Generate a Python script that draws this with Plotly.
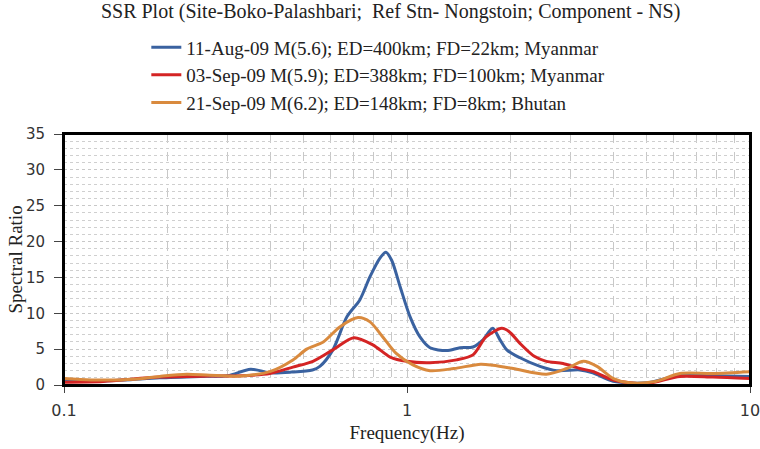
import plotly.graph_objects as go

# ---- data ----
blue_f = [0.1, 0.12, 0.15, 0.19, 0.25, 0.30, 0.35, 0.40, 0.46, 0.53, 0.557, 0.608, 0.668, 0.729, 0.78, 0.834,
          0.868, 0.902, 0.955, 1.021, 1.091, 1.167, 1.305, 1.428, 1.557, 1.666, 1.778, 1.867, 1.954, 2.135,
          2.442, 2.731, 3.19, 3.48, 3.99, 5.0, 6.25, 7.8, 10]
blue_v = [0.5, 0.5, 0.7, 1.0, 1.2, 1.3, 2.2, 1.7, 1.8, 2.1, 2.6, 4.9, 9.5, 11.9, 15.1, 17.7,
          18.5, 17.4, 13.7, 9.5, 6.7, 5.2, 4.8, 5.2, 5.3, 6.3, 7.9, 6.3, 4.9, 3.8,
          2.6, 2.0, 2.1, 1.7, 0.5, 0.3, 1.4, 1.3, 1.2]

red_f = [0.1, 0.13, 0.19, 0.266, 0.33, 0.398, 0.465, 0.532, 0.608, 0.70, 0.795, 0.893, 0.999, 1.167, 1.395,
         1.557, 1.70, 1.89, 1.99, 2.135, 2.35, 2.55, 2.85, 3.19, 3.48, 3.99, 5.0, 6.25, 7.8, 10]
red_v = [0.4, 0.5, 1.1, 1.25, 1.3, 1.6, 2.5, 3.3, 4.9, 6.6, 5.6, 3.9, 3.3, 3.1, 3.5,
         4.2, 6.7, 7.9, 7.4, 5.8, 4.0, 3.3, 3.0, 2.3, 1.9, 0.7, 0.2, 1.2, 1.1, 0.9]

orange_f = [0.1, 0.12, 0.16, 0.19, 0.228, 0.266, 0.33, 0.40, 0.465, 0.51, 0.57, 0.637, 0.72, 0.78, 0.85,
            0.93, 1.04, 1.167, 1.37, 1.64, 1.78, 2.04, 2.55, 2.92, 3.27, 3.58, 4.0, 4.46, 5.3,
            6.25, 7.8, 10]
orange_v = [0.9, 0.7, 0.8, 1.2, 1.5, 1.35, 1.25, 1.9, 3.5, 5.0, 6.0, 8.1, 9.4, 8.8, 6.7,
            4.4, 2.8, 2.0, 2.3, 2.9, 2.75, 2.3, 1.5, 2.3, 3.3, 2.6, 0.9, 0.3, 0.5,
            1.6, 1.6, 1.85]

names = ["11-Aug-09 M(5.6); ED=400km; FD=22km; Myanmar",
         "03-Sep-09 M(5.9); ED=388km; FD=100km; Myanmar",
         "21-Sep-09 M(6.2); ED=148km; FD=8km; Bhutan"]
colors = ["#3A62A0", "#D42424", "#D98A3E"]

y_ticks = [0, 5, 10, 15, 20, 25, 30, 35]
x_ticks = [0.1, 1, 10]
x_tick_labels = ["0.1", "1", "10"]

serif = "Liberation Serif"
sans = "DejaVu Sans"

fig = go.Figure()
for f, v, n, c in [(blue_f, blue_v, names[0], colors[0]),
                   (red_f, red_v, names[1], colors[1]),
                   (orange_f, orange_v, names[2], colors[2])]:
    fig.add_trace(go.Scatter(x=f, y=v, name=n, mode="lines", cliponaxis=True,
                             line=dict(color=c, width=3, shape="spline", smoothing=0.8)))

fig.update_layout(
    width=760, height=449,
    margin=dict(l=64, r=10, t=134, b=64, autoexpand=False),
    paper_bgcolor="white", plot_bgcolor="white",
    title=dict(text="SSR Plot (Site-Boko-Palashbari;  Ref Stn- Nongstoin; Component - NS)",
               x=0.514, xref="container", xanchor="center",
               y=0.99, yref="container", yanchor="top",
               font=dict(family=serif, size=20, color="#222")),
    legend=dict(x=0.12, xanchor="left", y=0.937, yref="container", yanchor="top",
                font=dict(family=serif, size=19, color="#222"),
                bgcolor="rgba(0,0,0,0)", itemwidth=30),
    showlegend=True,
    shapes=[dict(type="rect", xref="paper", yref="paper", x0=0, x1=1, y0=0, y1=1,
                 line=dict(color="black", width=2), fillcolor="rgba(0,0,0,0)", layer="above")],
    annotations=[dict(text="Spectral Ratio", xref="paper", yref="paper", x=-0.0714, y=0.5,
                      xanchor="center", yanchor="middle", textangle=-90, showarrow=False,
                      font=dict(family=serif, size=19, color="#222"))],
)

fig.update_xaxes(type="log", range=[-1, 1], automargin=False,
                 tickvals=x_ticks, ticktext=x_tick_labels, ticklabeloverflow="allow",
                 tickfont=dict(family=sans, size=16, color="#333"),
                 ticks="outside", ticklen=6, tickcolor="#444", ticklabelstandoff=4,
                 showgrid=True, gridcolor="#c8c8c8", griddash="dash", gridwidth=1,
                 minor=dict(dtick="D1", showgrid=True, gridcolor="#c8c8c8", griddash="dash", ticks=""),
                 showline=True, linecolor="black", linewidth=2, mirror=True,
                 title=dict(text="Frequency(Hz)", font=dict(family=serif, size=19, color="#222"), standoff=6))
fig.update_yaxes(range=[0, 35], tickvals=y_ticks, automargin=False,
                 tickfont=dict(family=sans, size=15, color="#333"),
                 ticks="outside", ticklen=8, tickcolor="#444", ticklabelstandoff=6,
                 showgrid=True, gridcolor="#c8c8c8", griddash="dot", gridwidth=1,
                 minor=dict(dtick=1, showgrid=True, gridcolor="#cfcfcf", griddash="dot"),
                 showline=True, linecolor="black", linewidth=2, mirror=True, zeroline=False)

fig.write_html("out.html")
